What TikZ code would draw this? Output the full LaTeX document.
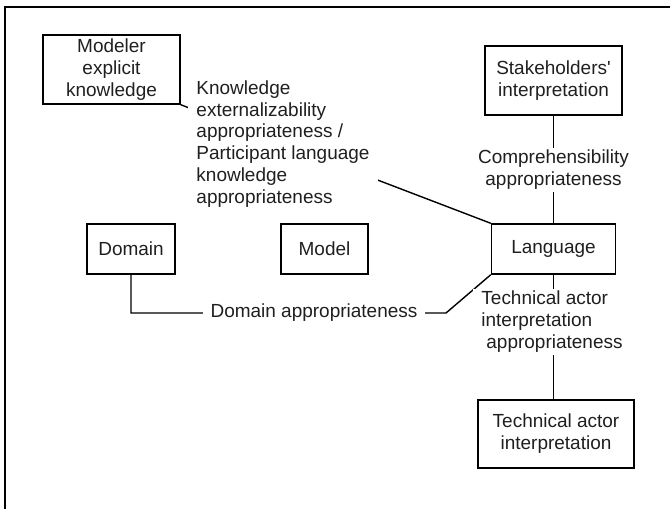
\documentclass[tikz,border=0pt]{standalone}
\usepackage{fontspec}
\setmainfont{Liberation Sans}
\usetikzlibrary{positioning}

\begin{document}
\begin{tikzpicture}[x=0.025cm, y=-0.025cm,
  every node/.style={font=\fontsize{13.5}{15.6}\selectfont, text=black!88},
  box/.style={draw, line width=1pt, align=center, inner sep=0pt},
  lbl/.style={fill=white, inner xsep=0.2cm, inner ysep=0.05cm}]
  \useasboundingbox (0,0) rectangle (670,509);

  % 外框（只有上边和左边）
  \draw[line width=1.5pt] (670,7) -- (5,7) -- (5,509);

  % 方框：名字/中心x/中心y/宽/高/文字
  \foreach \name/\x/\y/\w/\h/\txt in {
      modeler/111.5/69.5/3.425/1.725/{Modeler\\explicit\\knowledge},
      stake/553.5/80.5/3.425/1.725/{Stakeholders\textquotesingle\\interpretation},
      domain/131/249/2.2/1.25/{Domain},
      model/324.5/249/2.175/1.25/{Model},
      lang/553.5/249/3.1/1.25/{Language},
      tech/556/434/3.9/1.7/{Technical actor\\interpretation}}
    \node[box, minimum width=\w cm, minimum height=\h cm] (\name) at (\x,\y) {\txt};

  % 连线
  \coordinate (dbend) at (446,313);
  \draw[line width=1pt] (modeler.south east) -- (lang.north west);
  \draw[line width=1pt] (stake.south) -- (lang.north);
  \draw[line width=1pt] (lang.south) -- (lang.south |- tech.north);
  \draw[line width=1pt] (domain.south) |- (dbend) -- (lang.south west);

  % 标签
  \node[lbl, align=left] (klbl) at (283,144) {Knowledge\\externalizability\\appropriateness /\\Participant language\\knowledge\\appropriateness};
  \node[lbl, align=center] (clbl) at (553.5,170) {Comprehensibility\\appropriateness};
  \node[lbl] (dlbl) at (314,313) {Domain appropriateness};
  \node[lbl, align=left] (tlbl) at (552,322) {Technical actor\\interpretation\\\hspace*{0.125cm}appropriateness};
\end{tikzpicture}
\end{document}
